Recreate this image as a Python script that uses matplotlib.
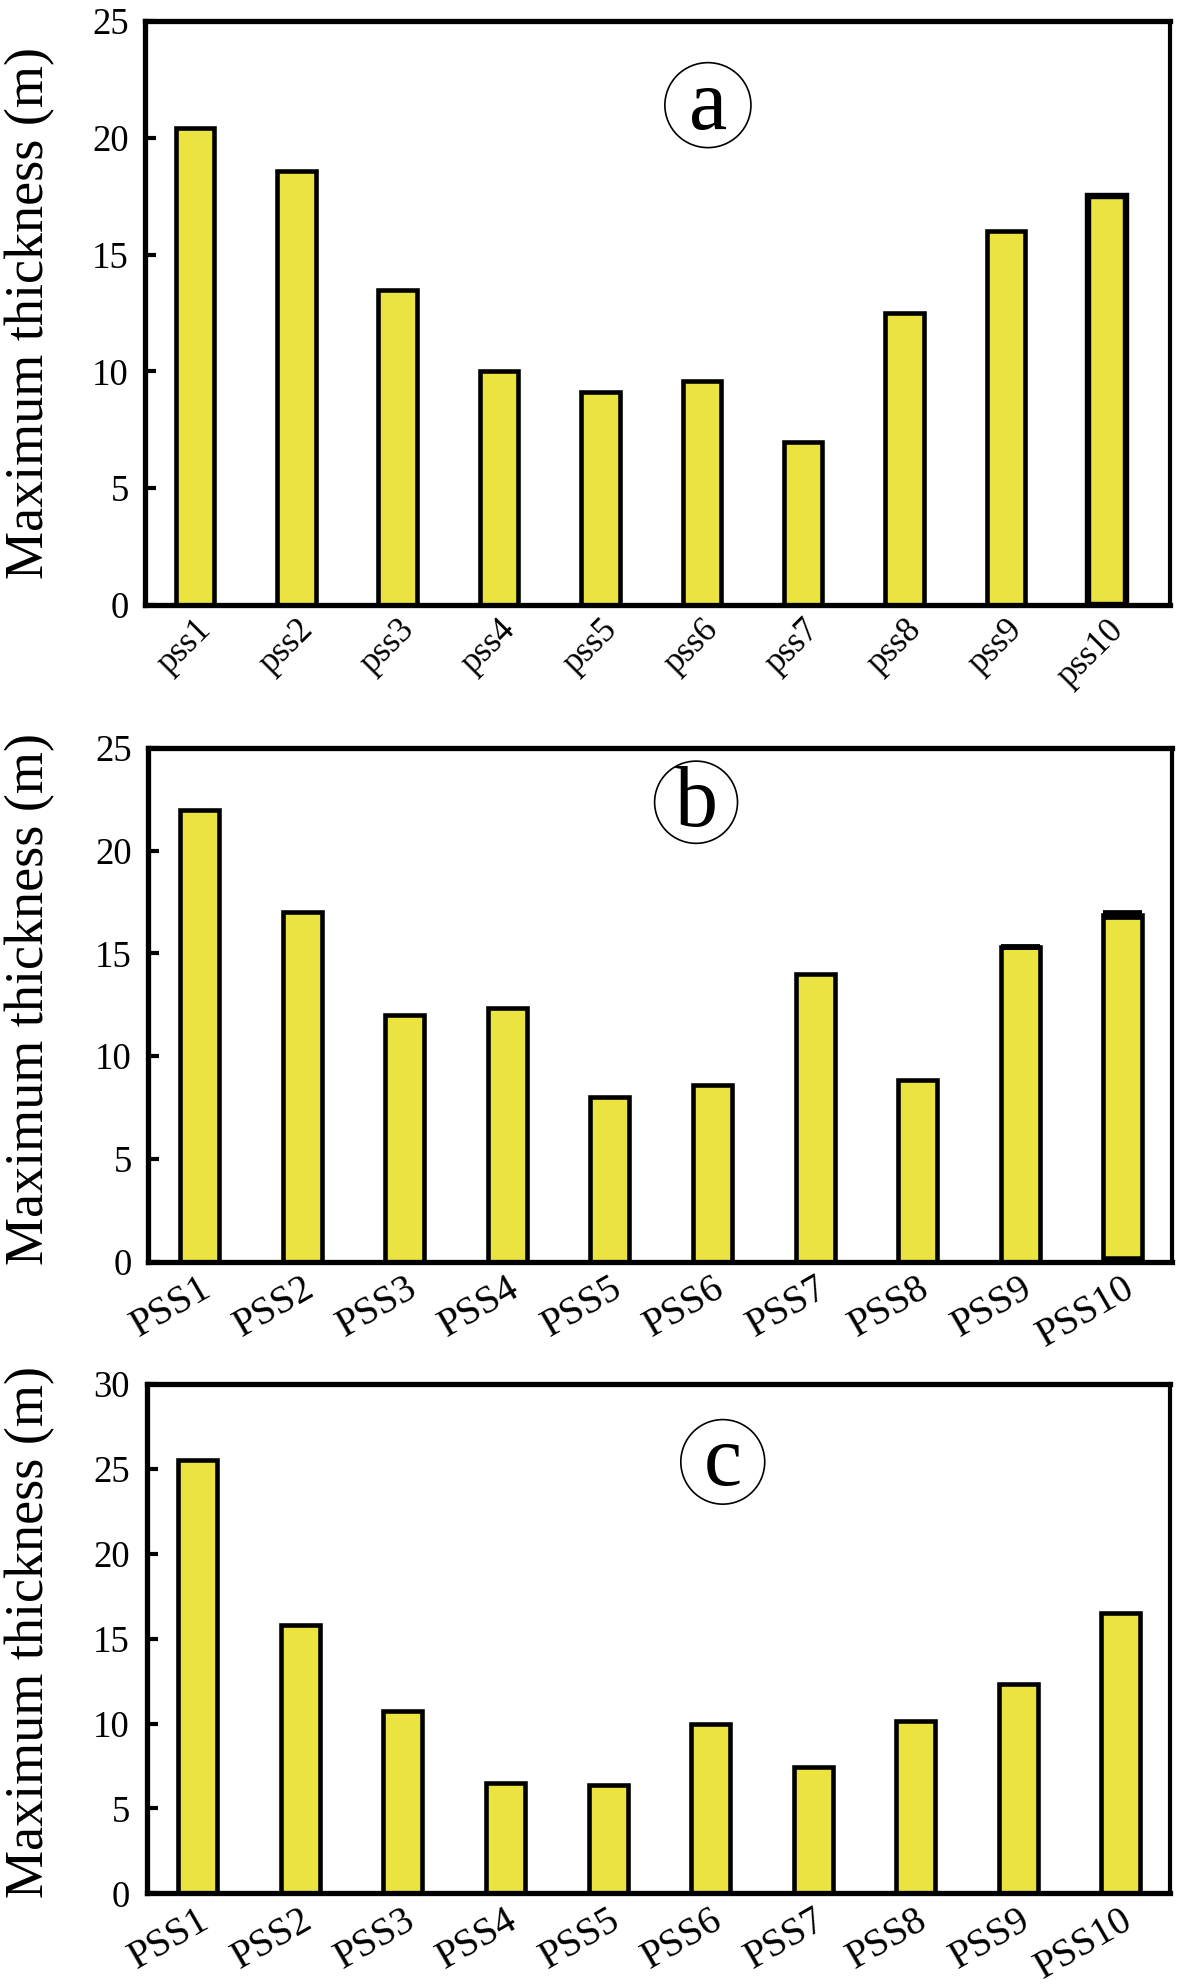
import matplotlib
matplotlib.use("Agg")
import matplotlib.pyplot as plt
import matplotlib.transforms as mtransforms
from matplotlib.patches import Ellipse
from matplotlib.transforms import ScaledTranslation

# ---------------- data ----------------
labels_a = ["pss1", "pss2", "pss3", "pss4", "pss5", "pss6", "pss7", "pss8", "pss9", "pss10"]
labels_bc = ["PSS1", "PSS2", "PSS3", "PSS4", "PSS5", "PSS6", "PSS7", "PSS8", "PSS9", "PSS10"]
values_a = [20.4, 18.6, 13.5, 10.0, 9.1, 9.6, 7.0, 12.5, 16.0, 17.5]
values_b = [21.95, 17.0, 12.0, 12.35, 8.0, 8.6, 14.0, 8.85, 15.3, 16.85]
values_c = [25.5, 15.8, 10.75, 6.5, 6.35, 9.95, 7.45, 10.15, 12.3, 16.5]
yticks_ab = [0, 5, 10, 15, 20, 25]
yticks_c = [0, 5, 10, 15, 20, 25, 30]
panel_letters = ["a", "b", "c"]
ylabel_text = "Maximum thickness (m)"

# ---------------- style ----------------
FONT = "Liberation Serif"
plt.rcParams["font.family"] = [FONT, "DejaVu Serif"]
BAR_COLOR = "#EAE340"
EDGE = "black"
BAR_LW = 3.3

fig = plt.figure(figsize=(11.81, 19.85), dpi=100)

panels = [
    dict(rect=[0.1231, 0.6952, 0.8676, 0.2942], labels=labels_a, values=values_a,
         yticks=yticks_ab, ylim=(0, 25), xlim=(-0.49, 9.62), rot=45, xfs=25,
         xoff=(-17.0, -24.0), circ=(0.549, 0.856), circ_wh=(0.084, 0.1455),
         bar_lw={9: 4.6}, thick={}, ly=0.5),
    dict(rect=[0.1257, 0.3644, 0.8667, 0.2589], labels=labels_bc, values=values_b,
         yticks=yticks_ab, ylim=(0, 25), xlim=(-0.50, 9.48), rot=30, xfs=28.5,
         xoff=(24.0, -5.0), circ=(0.535, 0.894), circ_wh=(0.081, 0.160),
         bar_lw={}, thick={8: (4.2, 3.5), 9: (7.0, 9.0)}, ly=0.512),
    dict(rect=[0.1241, 0.0462, 0.8666, 0.2566], labels=labels_bc, values=values_c,
         yticks=yticks_c, ylim=(0, 30), xlim=(-0.50, 9.48), rot=30, xfs=28.5,
         xoff=(20.0, -7.0), circ=(0.563, 0.847), circ_wh=(0.082, 0.166),
         bar_lw={}, thick={}, ly=0.513),
]

for p, letter in zip(panels, panel_letters):
    ax = fig.add_axes(p["rect"])
    x = list(range(len(p["values"])))
    lws = [p["bar_lw"].get(i, BAR_LW) for i in x]
    ax.bar(x, p["values"], width=0.38, color=BAR_COLOR, edgecolor=EDGE,
           linewidth=lws, zorder=2)
    # heavier outline segments seen on some bars
    for i, (top_lw, bot_lw) in p["thick"].items():
        ax.hlines(p["values"][i], i - 0.19, i + 0.19, color=EDGE, lw=top_lw, zorder=3)
        ax.hlines(0, i - 0.19, i + 0.19, color=EDGE, lw=bot_lw, zorder=3)
    ax.set_xlim(*p["xlim"])
    ax.set_ylim(*p["ylim"])
    ax.set_yticks(p["yticks"])
    ax.set_yticklabels([str(t) for t in p["yticks"]], fontsize=26.5)
    ax.set_xticks(x)
    ax.set_xticklabels(p["labels"], fontsize=p["xfs"], rotation=p["rot"],
                       ha="right", va="top", rotation_mode="anchor")
    off = ScaledTranslation(p["xoff"][0] / 72, p["xoff"][1] / 72, fig.dpi_scale_trans)
    for lab in ax.get_xticklabels():
        lab.set_transform(lab.get_transform() + off)
    ax.tick_params(axis="y", direction="in", length=8, width=3, pad=12)
    ax.tick_params(axis="x", length=0, pad=6)
    for side in ["left", "bottom", "top"]:
        ax.spines[side].set_linewidth(3.8)
    ax.spines["right"].set_linewidth(3.0)
    ax.set_ylabel(ylabel_text, fontsize=39)
    ax.yaxis.set_label_coords(
        55 / 1181, p["ly"],
        transform=mtransforms.blended_transform_factory(fig.transFigure, ax.transAxes))
    # circled panel letter
    ax.add_patch(Ellipse(p["circ"], p["circ_wh"][0], p["circ_wh"][1],
                         transform=ax.transAxes, fill=False, lw=1.2,
                         edgecolor="black", zorder=4))
    ax.text(p["circ"][0], p["circ"][1] - 0.005, letter, transform=ax.transAxes,
            fontsize=62, ha="center", va="center", zorder=5)

fig.savefig("out.png", dpi=100)
